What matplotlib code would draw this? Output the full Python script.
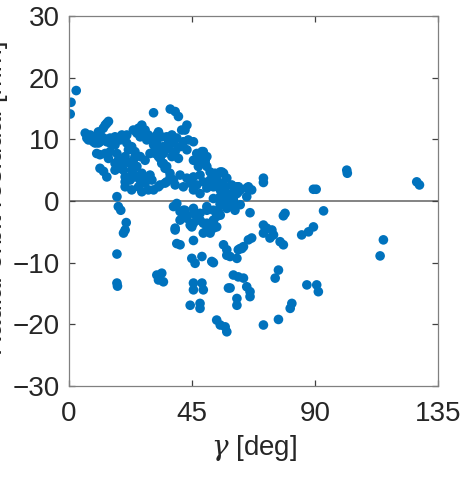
import matplotlib
matplotlib.use('Agg')
import matplotlib.pyplot as plt
import numpy as np

plt.rcParams['font.family'] = ['Liberation Sans', 'DejaVu Sans']
plt.rcParams['mathtext.fontset'] = 'dejavuserif'

# gamma angle [deg] and residual values
gamma_deg = [
    0.4, 0.7, 2.6,
    5.9, 7.7, 9.5, 11.3, 12.5, 13.8, 14.4, 7.1, 8.9, 10.7, 12.6, 15.0, 16.8, 19.3, 21.1,
    6.5, 13.2, 10.7, 9.5, 11.3, 13.8, 15.0, 16.8, 18.7, 20.5, 21.1,
    10.1, 11.3, 13.8, 14.4, 15.0, 13.2,
    11.3, 12.6, 13.8,
    16.8, 18.7, 19.9, 20.5, 21.7, 22.9, 24.1, 23.5, 24.8,
    17.5, 18.0, 16.8, 18.7, 19.9, 22.3, 22.9, 23.5, 24.1,
    20.5, 22.3, 24.1, 26.0, 20.5, 22.9, 25.4, 27.8, 29.0, 30.9, 26.6, 20.5, 22.3,
    26.0, 27.8, 26.6, 28.4, 30.3, 29.6, 27.8,
    23.5, 25.4, 26.6, 27.2, 26.0, 24.8, 27.8, 29.0, 30.3, 32.1, 31.5, 29.6, 32.7, 34.5,
    35.1, 36.3, 37.6, 33.9, 35.1, 36.9, 38.2, 35.1, 32.7,
    28.4, 30.3, 32.1, 32.7, 33.9, 30.9, 32.7, 34.5, 31.5, 33.3, 34.5, 35.7,
    35.7, 37.6, 39.4, 38.2, 36.3, 38.8, 40.0, 37.6,
    41.8, 43.6, 45.5, 43.1, 40.6,
    46.7, 49.1, 47.9, 49.8, 50.4, 45.5, 47.3, 50.4, 48.6, 49.1, 49.8, 47.9,
    30.9, 37.0, 38.8, 40.0, 43.1, 42.4, 41.2,
    37.0, 40.6, 43.1, 45.5, 47.9, 33.3, 35.7, 38.8, 41.8, 44.3, 46.7, 49.1, 51.6, 54.0,
    55.9, 57.7, 52.8, 55.3, 50.4, 47.9, 45.5,
    51.6, 53.4, 55.3, 56.5, 54.0, 55.9, 57.1, 55.3, 57.7, 60.1, 62.0, 62.6, 65.0,
    59.5, 61.4, 62.0, 65.0, 66.8, 65.6, 61.4, 60.1,
    71.1, 71.1, 89.4, 90.4, 101.6, 101.8, 127.2, 128.2,
    57.7, 60.1, 55.3, 52.8, 60.1,
    38.2, 40.6, 43.1, 45.5, 47.9, 50.4, 52.8, 55.3, 57.7, 62.6,
    39.4, 41.8, 50.4, 55.3, 57.7,
    40.6, 44.3, 46.7, 50.4, 52.8, 55.3, 38.8,
    41.8, 43.1, 42.4, 45.5, 46.7, 47.9, 49.1, 50.4, 51.6, 52.8, 54.0, 52.8, 54.0, 54.6,
    45.5, 44.9, 49.1,
    60.1, 60.7, 66.2, 93.1, 79.0, 78.4,
    17.5, 18.0, 18.9, 20.9, 20.5, 19.9, 17.5, 17.5, 17.7,
    32.1, 32.7, 33.9, 34.5,
    38.8, 39.4, 40.6, 45.5,
    56.5, 57.7, 57.7, 62.6, 63.8, 61.9, 61.4, 58.9,
    44.9, 46.1, 48.6, 52.2, 52.8,
    71.1, 72.3, 74.2, 74.8, 73.5, 71.1, 66.8, 65.6, 77.2, 78.4, 85.1, 87.6, 89.4, 63.2,
    115.0, 113.8,
    76.6, 75.4, 60.1, 61.9, 63.8, 65.0, 66.2, 66.2, 58.9, 58.3,
    87.0, 90.6, 91.2,
    45.5, 48.6, 45.5, 49.1,
    61.4, 61.4, 81.5, 80.9, 76.6, 71.1,
    44.3, 47.9, 47.9,
    54.0, 55.3, 57.1, 57.7,
]
residual = [
    14.1, 16.0, 17.9,
    11.0, 10.7, 10.4, 11.0, 11.8, 12.6, 12.9, 9.9, 9.6, 9.4, 10.2, 10.2, 10.4, 10.7, 10.7,
    10.2, 12.3, 11.2, 9.4, 9.6, 9.6, 9.4, 9.1, 9.9, 10.4, 9.4,
    7.7, 7.5, 7.5, 6.9, 8.0, 7.7,
    5.3, 4.8, 3.9,
    5.0, 5.3, 6.1, 7.2, 8.3, 8.8, 8.0, 6.6, 5.6,
    7.7, 6.6, 6.1, 5.6, 5.0, 6.1, 5.0, 4.5, 7.2,
    3.9, 3.4, 3.9, 3.4, 2.3, 1.8, 2.3, 3.1, 1.8, 1.8, 1.5, 3.1, 3.9,
    7.2, 6.6, 4.5, 3.7, 3.4, 4.2, 2.9,
    11.5, 11.8, 12.3, 11.5, 10.4, 11.0, 11.5, 10.7, 9.9, 9.4, 8.3, 7.7, 7.2, 7.7,
    8.5, 9.4, 10.2, 6.1, 5.3, 4.5, 3.4, 2.9, 2.3,
    9.9, 10.2, 10.7, 11.2, 10.4, 9.1, 8.5, 8.8, 7.7, 6.9, 6.1, 5.6,
    10.4, 10.7, 10.2, 9.4, 8.5, 8.0, 6.9, 7.2,
    9.6, 9.9, 9.6, 8.3, 8.8,
    7.7, 8.0, 6.6, 6.6, 7.2, 6.6, 5.6, 5.6, 8.0, 6.9, 6.1, 7.2,
    14.3, 14.9, 14.5, 13.7, 12.3, 11.5, 11.5,
    3.9, 4.2, 3.7, 3.9, 4.2, 2.6, 3.1, 2.6, 2.3, 2.9, 2.6, 3.1, 3.4, 3.9,
    4.7, 3.7, 2.3, 2.3, 2.1, 1.2, 1.8,
    4.7, 4.5, 4.7, 4.5, 3.4, 2.9, 2.3, 1.8, 1.2, 1.5, 2.3, 1.8, 0.7,
    2.6, 2.3, 1.5, 2.1, 1.8, 2.3, 1.2, 0.7,
    3.7, 3.0, 1.9, 1.9, 5.0, 4.5, 3.1, 2.6,
    0.7, 0.7, 0.7, 0.4, 0.2,
    -0.9, -1.7, -2.5, -1.2, -2.0, -0.9, -1.5, -0.4, -1.2, -0.6,
    -0.4, -1.5, -1.5, -0.6, -0.4,
    -3.1, -3.9, -3.1, -3.6, -3.1, -2.3, -4.4,
    -2.3, -2.8, -1.5, -2.0, -2.5, -3.1, -3.6, -4.7, -5.2, -4.4, -4.2, -3.4, -2.5, -1.7,
    -3.6, -4.2, -5.2,
    -0.9, -1.5, -1.9, -1.6, -2.0, -2.4,
    0.7, -0.9, -1.5, -3.5, -4.7, -5.2, -8.6, -13.3, -13.8,
    -12.0, -12.8, -11.7, -13.1,
    -4.7, -6.9, -7.1, -6.4,
    -7.1, -7.9, -8.8, -7.7, -7.4, -7.9, -9.3, -9.0,
    -9.3, -10.1, -9.0, -9.8, -10.0,
    -3.9, -4.4, -4.7, -5.5, -6.0, -5.2, -6.0, -6.3, -6.6, -7.1, -5.5, -5.0, -4.2, -7.7,
    -6.3, -8.9,
    -11.2, -12.5, -12.0, -12.3, -12.5, -13.9, -14.7, -15.5, -14.1, -14.1,
    -13.6, -13.6, -14.7,
    -13.3, -13.3, -14.4, -14.4,
    -15.8, -16.9, -16.6, -17.4, -19.2, -20.1,
    -16.9, -16.6, -17.4,
    -19.3, -20.1, -20.4, -21.2,
]
x_ticks = [0, 45, 90, 135]
y_ticks = [-30, -20, -10, 0, 10, 20, 30]

fig = plt.figure(figsize=(4.67, 4.82), dpi=100)
ax = fig.add_axes([0.148, 0.199, 0.790, 0.768])

ax.axhline(0, color='#7a7a7a', linewidth=1.3, zorder=1)
ax.scatter(gamma_deg, residual, s=48, color='#0072BD', edgecolors='none', zorder=2)

ax.set_xlim(0, 135)
ax.set_ylim(-30, 30)
ax.set_xticks(x_ticks)
ax.set_yticks(y_ticks)
for sp in ax.spines.values():
    sp.set_color('#808080')
    sp.set_linewidth(0.9)
ax.tick_params(direction='in', top=True, right=True, length=4, width=0.9,
               color='#404040', labelsize=20, labelcolor='#262626')
ax.tick_params(axis='x', pad=11)
ax.tick_params(axis='y', pad=7)
ax.set_xlabel(r'$\gamma$ [deg]', fontsize=20, color='#262626', labelpad=4)

fig.text(0.018, 0.59, 'Radial orbit residual [mm]', rotation=90, ha='right',
         va='center', fontsize=20, color='#262626')

fig.savefig('out.png', dpi=100)
